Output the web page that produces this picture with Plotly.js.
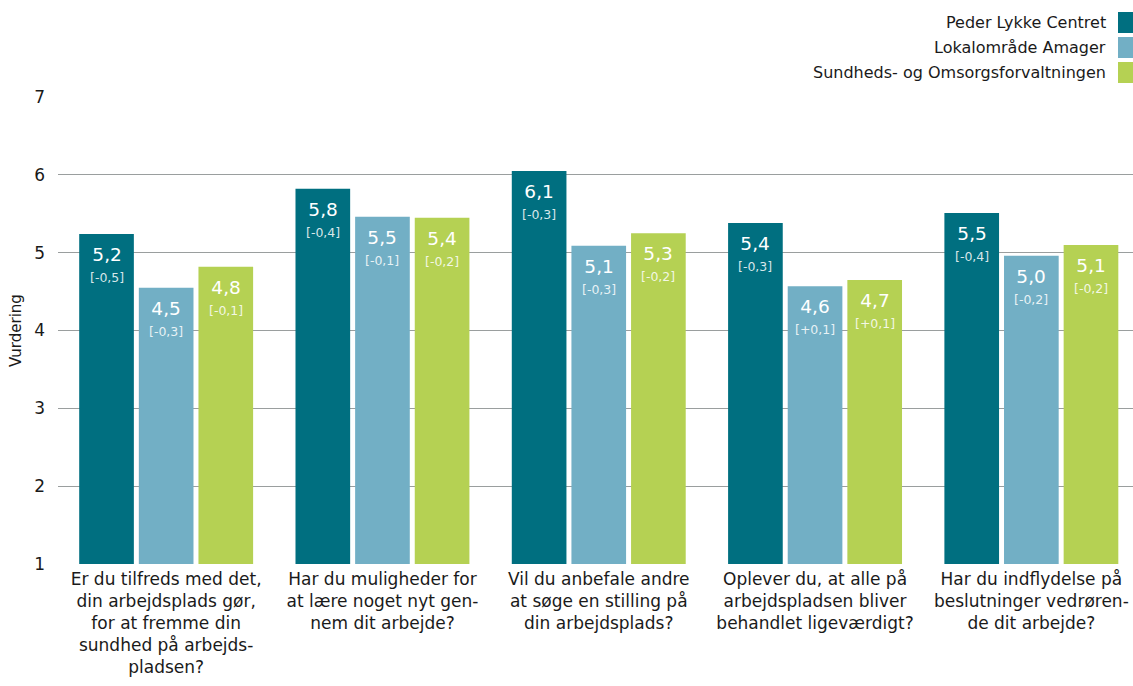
<!DOCTYPE html>
<html>
<head>
<meta charset="utf-8">
<script src="https://cdn.plot.ly/plotly-3.0.1.min.js"></script>
<style>html,body{margin:0;padding:0;background:#fff;}#chart{width:1133px;height:686px;}</style>
</head>
<body>
<div id="chart"></div>
<script>
const categories = [
  "Er du tilfreds med det,<br>din arbejdsplads gør,<br>for at fremme din<br>sundhed på arbejds-<br>pladsen?",
  "Har du muligheder for<br>at lære noget nyt gen-<br>nem dit arbejde?",
  "Vil du anbefale andre<br>at søge en stilling på<br>din arbejdsplads?",
  "Oplever du, at alle på<br>arbejdspladsen bliver<br>behandlet ligeværdigt?",
  "Har du indflydelse på<br>beslutninger vedrøren-<br>de dit arbejde?"
];
const seriesNames = ["Peder Lykke Centret", "Lokalområde Amager", "Sundheds- og Omsorgsforvaltningen"];
const pederValues = [5.24, 5.82, 6.05, 5.38, 5.51];
const lokalValues = [4.55, 5.46, 5.09, 4.57, 4.96];
const sundValues  = [4.82, 5.45, 5.25, 4.65, 5.10];
const pederLabels = ["5,2", "5,8", "6,1", "5,4", "5,5"];
const lokalLabels = ["4,5", "5,5", "5,1", "4,6", "5,0"];
const sundLabels  = ["4,8", "5,4", "5,3", "4,7", "5,1"];
const pederChange = ["-0,5", "-0,4", "-0,3", "-0,3", "-0,4"];
const lokalChange = ["-0,3", "-0,1", "-0,3", "+0,1", "-0,2"];
const sundChange  = ["-0,1", "-0,2", "-0,2", "+0,1", "-0,2"];
const yTicks = [1, 2, 3, 4, 5, 6, 7];

const colors = ["#006F80", "#72AFC5", "#B5D153"];
const FONT = "DejaVu Sans, Verdana, sans-serif";
const barWidth = 0.2527;
const offsets = [-0.402, -0.1263, 0.1494];

const values = [pederValues, lokalValues, sundValues];
const labels = [pederLabels, lokalLabels, sundLabels];
const changes = [pederChange, lokalChange, sundChange];

const traces = values.map((v, j) => ({
  type: "bar",
  name: seriesNames[j],
  x: categories,
  y: v,
  base: 0,
  width: barWidth,
  offset: offsets[j],
  marker: {color: colors[j], line: {width: 0}},
  showlegend: false,
  hoverinfo: "skip"
}));

const annotations = [];
values.forEach((v, j) => {
  v.forEach((val, i) => {
    annotations.push({
      xref: "x", yref: "y",
      x: i + offsets[j] + barWidth / 2,
      y: val,
      yanchor: "top", xanchor: "center",
      yshift: -8,
      showarrow: false,
      text: "<span style='font-size:18.5px'>" + labels[j][i] + "</span><br><span style='font-size:12.5px;color:rgba(255,255,255,0.85)'>[" + changes[j][i] + "]</span>",
      font: {family: FONT, size: 16, color: "#ffffff"},
      align: "center"
    });
  });
});

// legend (text right-aligned, swatch on the right)
const shapes = [];
seriesNames.forEach((name, j) => {
  annotations.push({
    xref: "paper", yref: "paper",
    x: 1, y: 1,
    xshift: -25,
    yshift: 75 - j * 25,
    xanchor: "right", yanchor: "middle",
    showarrow: false,
    text: name,
    font: {family: FONT, size: 16, color: "#1a1a1a"}
  });
});
const plotTop = 97;
const legendRows = [[12, 33], [37, 58], [62, 83]];
legendRows.forEach((r, j) => {
  shapes.push({
    type: "rect", xref: "paper", yref: "paper",
    xsizemode: "pixel", xanchor: 1,
    ysizemode: "pixel", yanchor: 1,
    x0: -15, x1: 0,
    y0: plotTop - r[1], y1: plotTop - r[0],
    fillcolor: colors[j], line: {width: 0}
  });
});

const layout = {
  width: 1133, height: 686,
  margin: {l: 58, r: 0, t: 97, b: 122},
  paper_bgcolor: "#ffffff", plot_bgcolor: "#ffffff",
  barmode: "overlay",
  font: {family: FONT, color: "#1a1a1a", size: 16},
  xaxis: {
    type: "category",
    range: [-0.5, 4.47],
    showgrid: false, zeroline: false,
    showline: false,
    ticks: "",
    tickfont: {family: FONT, size: 17, color: "#1a1a1a"},
    ticklabelstandoff: 3,
    fixedrange: true
  },
  yaxis: {
    range: [1, 7],
    tickvals: yTicks,
    ticktext: yTicks.map(String),
    showgrid: true, gridcolor: "#9a9e9e", gridwidth: 1,
    zeroline: false, showline: false, ticks: "",
    tickfont: {family: FONT, size: 17, color: "#1a1a1a"},
    ticklabelstandoff: 12,
    title: {text: "Vurdering", font: {family: FONT, size: 15, color: "#1a1a1a"}, standoff: 8},
    fixedrange: true
  },
  annotations: annotations,
  shapes: shapes,
  showlegend: false
};

Plotly.newPlot("chart", traces, layout, {displayModeBar: false, staticPlot: true});
</script>
</body>
</html>
